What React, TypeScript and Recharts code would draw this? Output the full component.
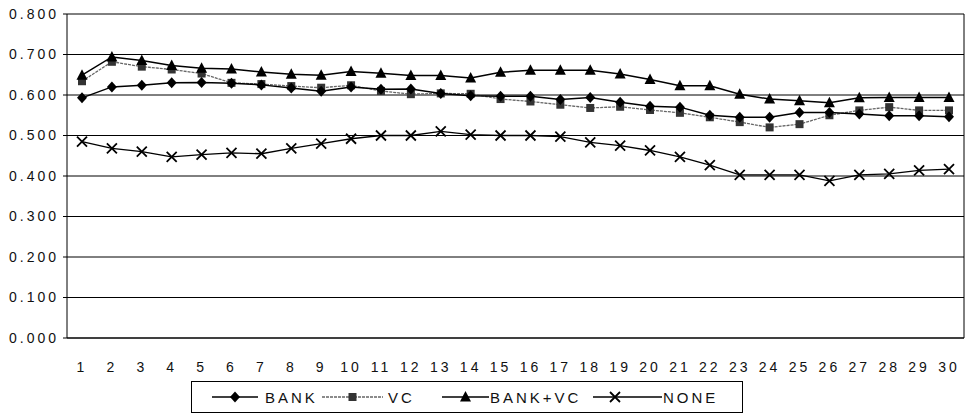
import { LineChart, Line, XAxis, YAxis, CartesianGrid } from "recharts";

const periods = Array.from({ length: 30 }, (_, i) => String(i + 1));

const bank = [0.593, 0.62, 0.624, 0.63, 0.631, 0.629, 0.625, 0.617, 0.609, 0.62, 0.614, 0.615, 0.604, 0.598, 0.597, 0.597, 0.589, 0.594, 0.582, 0.572, 0.57, 0.55, 0.545, 0.545, 0.557, 0.557, 0.553, 0.549, 0.549, 0.546];
const vc = [0.634, 0.682, 0.67, 0.663, 0.653, 0.63, 0.627, 0.622, 0.618, 0.624, 0.61, 0.602, 0.604, 0.603, 0.59, 0.584, 0.576, 0.568, 0.571, 0.563, 0.556, 0.545, 0.533, 0.52, 0.528, 0.55, 0.562, 0.57, 0.562, 0.562];
const bankVc = [0.649, 0.694, 0.685, 0.673, 0.666, 0.664, 0.657, 0.651, 0.649, 0.658, 0.654, 0.648, 0.648, 0.642, 0.656, 0.661, 0.661, 0.661, 0.652, 0.638, 0.623, 0.623, 0.602, 0.59, 0.586, 0.581, 0.593, 0.594, 0.594, 0.594];
const none = [0.485, 0.468, 0.46, 0.447, 0.453, 0.457, 0.455, 0.468, 0.48, 0.492, 0.5, 0.5, 0.51, 0.502, 0.5, 0.5, 0.497, 0.483, 0.475, 0.463, 0.447, 0.427, 0.403, 0.403, 0.403, 0.388, 0.403, 0.405, 0.414, 0.417];

const yTicks = [0, 0.1, 0.2, 0.3, 0.4, 0.5, 0.6, 0.7, 0.8];

const data = periods.map((p, i) => ({
  period: p,
  BANK: bank[i],
  VC: vc[i],
  "BANK+VC": bankVc[i],
  NONE: none[i],
}));

const FONT = "'Liberation Sans', Arial, sans-serif";
const textStyle = { fontFamily: FONT, fontSize: 14, letterSpacing: 3, fill: "#111" };

type Kind = "diamond" | "square" | "triangle" | "cross";

function Marker({ kind, x, y }: { kind: Kind; x: number; y: number }) {
  if (kind === "diamond")
    return <path d={`M${x},${y - 5.5}L${x + 5},${y}L${x},${y + 5.5}L${x - 5},${y}Z`} fill="#000" />;
  if (kind === "square")
    return <rect x={x - 4} y={y - 4} width={8} height={8} fill="#333" />;
  if (kind === "triangle")
    return <path d={`M${x},${y - 6}L${x + 5.5},${y + 4.5}L${x - 5.5},${y + 4.5}Z`} fill="#000" />;
  return (
    <path
      d={`M${x - 5},${y - 5}L${x + 5},${y + 5}M${x + 5},${y - 5}L${x - 5},${y + 5}`}
      stroke="#000"
      strokeWidth={1.8}
    />
  );
}

const dotFor = (kind: Kind) => (props: any) => (
  <g key={`${kind}-${props.index}`}>
    <Marker kind={kind} x={props.cx} y={props.cy} />
  </g>
);

// legend layout inside the box: line start, line length, text start
const legendItems: { name: string; kind: Kind; stroke: string; dash?: string; x: number; len: number; tx: number }[] = [
  { name: "BANK", kind: "diamond", stroke: "#000", x: 21, len: 46, tx: 74 },
  { name: "VC", kind: "square", stroke: "#666", dash: "3 1", x: 131, len: 61, tx: 197 },
  { name: "BANK+VC", kind: "triangle", stroke: "#000", x: 251, len: 47, tx: 299 },
  { name: "NONE", kind: "cross", stroke: "#000", x: 402, len: 69, tx: 472 },
];

function LegendBox() {
  return (
    <svg width={552} height={32} style={{ position: "absolute", left: 191, top: 381 }}>
      <rect x={0.5} y={0.5} width={551} height={31} fill="#fff" stroke="#000" />
      {legendItems.map((it) => (
        <g key={it.name}>
          <line x1={it.x} x2={it.x + it.len} y1={16} y2={16} stroke={it.stroke} strokeWidth={1.5} strokeDasharray={it.dash} />
          <Marker kind={it.kind} x={it.kind === "cross" ? it.x + 22 : it.x + it.len / 2} y={16} />
          <text x={it.tx} y={21.5} style={{ ...textStyle, fontSize: 15, letterSpacing: 3 }}>{it.name}</text>
        </g>
      ))}
    </svg>
  );
}

export default function App() {
  return (
    <div style={{ position: "absolute", left: 0, top: 0, width: 973, height: 420, background: "#fff" }}>
      <LineChart width={973} height={420} data={data} margin={{ top: 14, right: 8, left: 0, bottom: 52 }}>
        <CartesianGrid horizontal vertical={false} stroke="#000" strokeWidth={1} yAxisId="left" />
        <XAxis
          dataKey="period"
          axisLine={{ stroke: "#000" }}
          tickLine={false}
          tickSize={0}
          tickMargin={24}
          interval={0}
          padding={{ left: 15, right: 15 }}
          tick={textStyle}
          height={30}
        />
        <YAxis
          yAxisId="left"
          domain={[0, 0.8]}
          ticks={yTicks}
          tickFormatter={(v: number) => v.toFixed(3)}
          axisLine={{ stroke: "#000" }}
          tickLine={{ stroke: "#000" }}
          tickSize={4}
          tickMargin={4}
          tick={textStyle}
          width={67}
        />
        <YAxis
          yAxisId="right"
          orientation="right"
          domain={[0, 0.8]}
          ticks={yTicks}
          tick={false}
          tickLine={false}
          axisLine={{ stroke: "#000" }}
          width={1}
        />
        <Line yAxisId="left" dataKey="NONE" stroke="#000" strokeWidth={1.3} dot={dotFor("cross")} isAnimationActive={false} />
        <Line yAxisId="left" dataKey="VC" stroke="#666" strokeWidth={1.3} strokeDasharray="3 1" dot={dotFor("square")} isAnimationActive={false} />
        <Line yAxisId="left" dataKey="BANK" stroke="#000" strokeWidth={1.5} dot={dotFor("diamond")} isAnimationActive={false} />
        <Line yAxisId="left" dataKey="BANK+VC" stroke="#000" strokeWidth={1.5} dot={dotFor("triangle")} isAnimationActive={false} />
      </LineChart>
      <LegendBox />
    </div>
  );
}
